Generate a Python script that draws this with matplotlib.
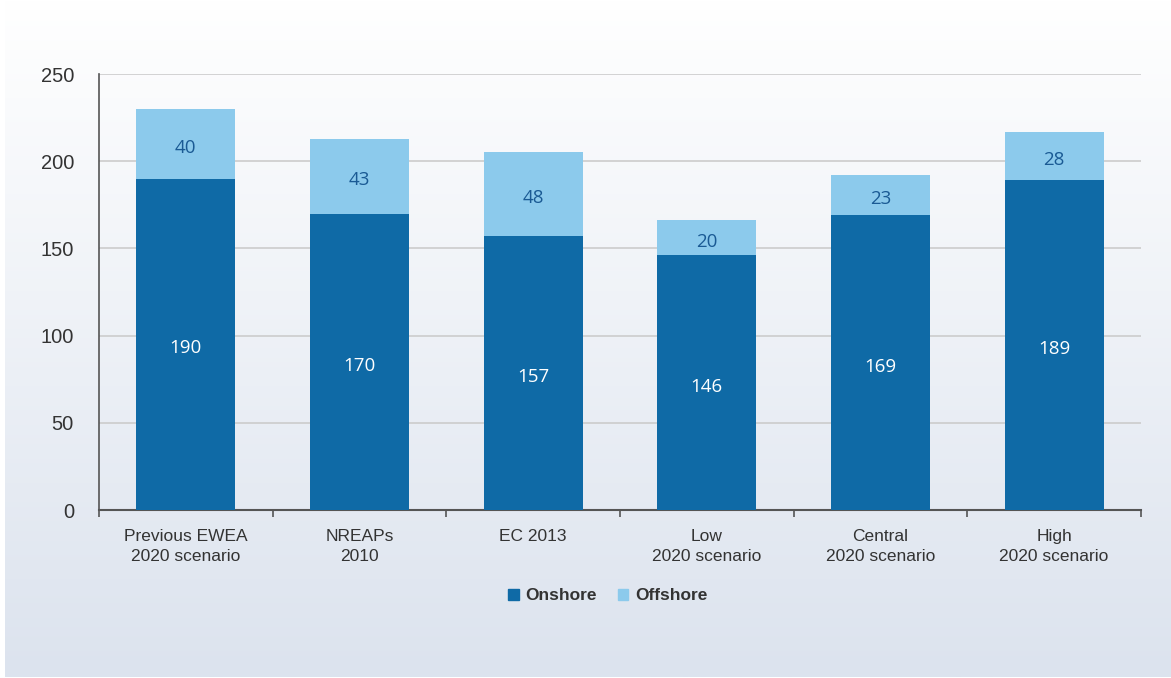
import numpy as np
from matplotlib import pyplot as plt
from matplotlib.patches import Patch

categories = ["Previous EWEA\n2020 scenario", "NREAPs\n2010", "EC 2013",
              "Low\n2020 scenario", "Central\n2020 scenario", "High\n2020 scenario"]
onshore = [190, 170, 157, 146, 169, 189]
offshore = [40, 43, 48, 20, 23, 28]

ON_COLOR = "#0f6aa6"
OFF_COLOR = "#8ccaec"
TEXT = "#333333"

fig = plt.figure(figsize=(11.71, 6.78), dpi=100)
fig.patch.set_facecolor("white")

# gradient background panel
bg = fig.add_axes([5 / 1171, 1 / 678, 1 - 5 / 1171, 1 - 1 / 678])
top = np.array([1.0, 1.0, 1.0])
bot = np.array([0xdc, 0xe3, 0xee]) / 255
t = np.linspace(0, 1, 256)[:, None]
grad = (top * (1 - t) + bot * t)[:, None, :]
bg.imshow(grad, aspect="auto", extent=[0, 1, 0, 1])
bg.set_axis_off()

ax = fig.add_axes([99 / 1171, 168 / 678, 1042 / 1171, 436 / 678])
ax.patch.set_alpha(0)

x = np.arange(len(categories))
w = 0.57
ax.bar(x, onshore, w, color=ON_COLOR, zorder=3)
ax.bar(x, offshore, w, bottom=onshore, color=OFF_COLOR, zorder=3)

# value labels, nudged down a little to sit like the original
for xi, on, off in zip(x, onshore, offshore):
    ax.annotate(str(on), (xi, on / 2), xytext=(0, -1.5), textcoords="offset points",
                ha="center", va="center_baseline", color="white",
                fontsize=13.5, family="Open Sans", zorder=4)
    ax.annotate(str(off), (xi, on + off / 2), xytext=(0, -1.5), textcoords="offset points",
                ha="center", va="center_baseline", color="#1a5a94",
                fontsize=13.5, family="Open Sans", zorder=4)

ax.set_xlim(-0.5, len(categories) - 0.5)
ax.set_ylim(0, 250)
ax.set_yticks(range(0, 251, 50))
ax.yaxis.grid(True, color="#cccccc", linewidth=1.2, zorder=0)
ax.set_axisbelow(True)

for s in ["top", "right"]:
    ax.spines[s].set_visible(False)
ax.spines["left"].set_color("#555555")
ax.spines["bottom"].set_color("#555555")
ax.spines["left"].set_linewidth(1.2)
ax.spines["bottom"].set_linewidth(1.5)

ax.tick_params(axis="y", length=0, labelsize=14.5, labelcolor=TEXT, pad=18)
ax.set_yticklabels([str(v) for v in range(0, 251, 50)], family="Liberation Sans")

# category labels and separator ticks
ax.set_xticks(x)
ax.set_xticklabels(categories, fontsize=12.5, color=TEXT, family="Liberation Sans",
                   linespacing=1.35)
ax.tick_params(axis="x", length=0, pad=14)
ax.set_xticks(np.arange(len(categories) + 1) - 0.5, minor=True)
ax.tick_params(axis="x", which="minor", length=5, color="#555555", width=1.2)

handles = [Patch(color=ON_COLOR, label="Onshore"), Patch(color=OFF_COLOR, label="Offshore")]
leg = fig.legend(handles=handles, loc="center", bbox_to_anchor=(608 / 1171, 1 - 596 / 678),
                 ncol=2, frameon=False, handlelength=0.6, handleheight=0.6,
                 handletextpad=0.4, columnspacing=1.2,
                 prop={"family": "Liberation Sans", "weight": "bold", "size": 12.5})
for txt in leg.get_texts():
    txt.set_color(TEXT)

fig.savefig("out.png", dpi=100)
